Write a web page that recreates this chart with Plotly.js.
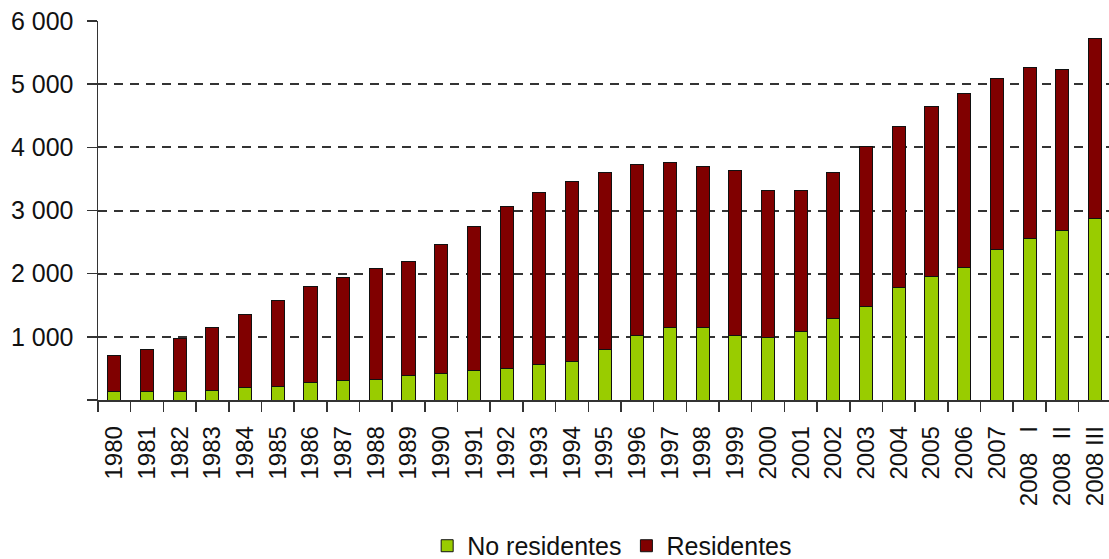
<!DOCTYPE html>
<html>
<head>
<meta charset="utf-8">
<script src="https://cdn.plot.ly/plotly-3.0.1.min.js"></script>
<style>html,body{margin:0;padding:0;background:#fff;}#chart{width:1109px;height:559px;}</style>
</head>
<body>
<div id="chart"></div>
<script>
var NB = "\u00A0";
var categories = ["1980","1981","1982","1983","1984","1985","1986","1987","1988","1989",
  "1990","1991","1992","1993","1994","1995","1996","1997","1998","1999",
  "2000","2001","2002","2003","2004","2005","2006","2007",
  "2008" + NB + NB + NB + "I", "2008" + NB + NB + "II", "2008" + NB + "III"];
var noResidentes = [127,127,127,158,195,211,274,301,332,385,
  417,475,501,559,617,792,1023,1140,1140,1023,
  992,1082,1288,1488,1784,1952,2100,2390,2564,2680,2876];
var totales = [712,802,976,1150,1356,1583,1794,1937,2079,2190,
  2454,2744,3060,3287,3467,3609,3731,3757,3704,3641,
  3320,3320,3609,4021,4337,4654,4855,5092,5266,5235,5725];
var residentes = totales.map(function(t, i){ return t - noResidentes[i]; });
var yTickVals = [0,1000,2000,3000,4000,5000,6000];
var yTickText = ["","1" + NB + "000","2" + NB + "000","3" + NB + "000","4" + NB + "000","5" + NB + "000","6" + NB + "000"];

var fontFam = "Liberation Sans, Arial, sans-serif";
var traces = [
  {type:"bar", name:"No residentes", x:categories, y:noResidentes,
   marker:{color:"#99CC00", line:{color:"#111", width:1}}},
  {type:"bar", name:"Residentes", x:categories, y:residentes,
   marker:{color:"#800000", line:{color:"#111", width:1}}}
];
var layout = {
  width:1109, height:559,
  margin:{l:98, r:0, t:21, b:159},
  barmode:"stack", bargap:0.6,
  paper_bgcolor:"#fff", plot_bgcolor:"#fff",
  font:{family:fontFam, color:"#111", size:24},
  showlegend:true,
  legend:{orientation:"h", x:0.552, xanchor:"center", xref:"container",
    y:0.0233, yanchor:"middle", yref:"container",
    font:{family:fontFam, size:25, color:"#111"}, traceorder:"normal", itemwidth:30},
  xaxis:{type:"category", range:[-0.5, 30.43], tickangle:-90, tickson:"boundaries",
    ticks:"outside", ticklen:10, tickwidth:1.5, tickcolor:"#333",
    showline:true, linecolor:"#333", linewidth:1.5, showgrid:false,
    tickfont:{family:fontFam, size:24, color:"#111"}, ticklabelstandoff:15, fixedrange:true},
  yaxis:{range:[0,6000], tickvals:yTickVals, ticktext:yTickText,
    ticks:"outside", ticklen:10, tickwidth:1.5, tickcolor:"#333",
    showline:true, linecolor:"#333", linewidth:1.5,
    showgrid:true, gridcolor:"#333", gridwidth:2, griddash:"9px,7px",
    zeroline:false, tickfont:{family:fontFam, size:25, color:"#111"}, ticklabelstandoff:8, fixedrange:true}
};
Plotly.newPlot("chart", traces, layout, {displayModeBar:false, staticPlot:true});
</script>
</body>
</html>
